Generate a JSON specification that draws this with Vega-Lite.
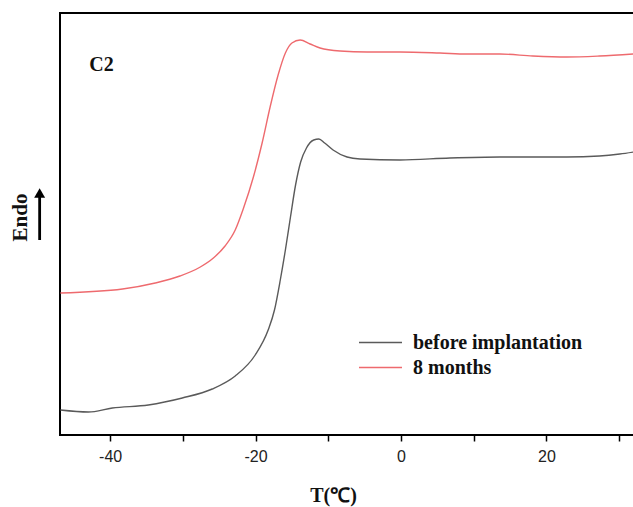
{
  "$schema": "https://vega.github.io/schema/vega-lite/v6.json",
  "autosize": "none",
  "width": 574,
  "height": 422,
  "padding": {"left": 60, "top": 13, "right": 0, "bottom": 72},
  "background": "white",
  "config": {
    "view": {"stroke": "black", "strokeWidth": 2},
    "axis": {"grid": false}
  },
  "datasets": {
    "curves": [
      {"T": -46.84, "v": 25, "s": "before implantation"},
      {"T": -43.0, "v": 23, "s": "before implantation"},
      {"T": -39.7, "v": 27, "s": "before implantation"},
      {"T": -34.75, "v": 30, "s": "before implantation"},
      {"T": -30.08, "v": 37, "s": "before implantation"},
      {"T": -25.96, "v": 46, "s": "before implantation"},
      {"T": -22.8, "v": 59, "s": "before implantation"},
      {"T": -20.05, "v": 80, "s": "before implantation"},
      {"T": -18.27, "v": 105, "s": "before implantation"},
      {"T": -17.4, "v": 125, "s": "before implantation"},
      {"T": -16.6, "v": 155, "s": "before implantation"},
      {"T": -15.9, "v": 185, "s": "before implantation"},
      {"T": -15.2, "v": 218, "s": "before implantation"},
      {"T": -14.5, "v": 250, "s": "before implantation"},
      {"T": -13.8, "v": 273, "s": "before implantation"},
      {"T": -13.0, "v": 287, "s": "before implantation"},
      {"T": -12.0, "v": 295, "s": "before implantation"},
      {"T": -11.3, "v": 296, "s": "before implantation"},
      {"T": -10.5, "v": 292, "s": "before implantation"},
      {"T": -9.34, "v": 285, "s": "before implantation"},
      {"T": -7.42, "v": 278, "s": "before implantation"},
      {"T": -5.63, "v": 276, "s": "before implantation"},
      {"T": -0.14, "v": 275, "s": "before implantation"},
      {"T": 6.73, "v": 277, "s": "before implantation"},
      {"T": 13.6, "v": 278, "s": "before implantation"},
      {"T": 22.8, "v": 278, "s": "before implantation"},
      {"T": 27.3, "v": 279, "s": "before implantation"},
      {"T": 30.1, "v": 281, "s": "before implantation"},
      {"T": 32.0, "v": 283, "s": "before implantation"},
      {"T": -46.84, "v": 142, "s": "8 months"},
      {"T": -38.3, "v": 146, "s": "8 months"},
      {"T": -33.8, "v": 152, "s": "8 months"},
      {"T": -30.4, "v": 159, "s": "8 months"},
      {"T": -27.6, "v": 168, "s": "8 months"},
      {"T": -25.8, "v": 177, "s": "8 months"},
      {"T": -24.2, "v": 189, "s": "8 months"},
      {"T": -22.8, "v": 205, "s": "8 months"},
      {"T": -21.7, "v": 226, "s": "8 months"},
      {"T": -20.3, "v": 258, "s": "8 months"},
      {"T": -19.1, "v": 292, "s": "8 months"},
      {"T": -18.0, "v": 328, "s": "8 months"},
      {"T": -16.9, "v": 360, "s": "8 months"},
      {"T": -15.9, "v": 382, "s": "8 months"},
      {"T": -15.0, "v": 392, "s": "8 months"},
      {"T": -13.87, "v": 395, "s": "8 months"},
      {"T": -12.5, "v": 391, "s": "8 months"},
      {"T": -11.13, "v": 387, "s": "8 months"},
      {"T": -8.38, "v": 384, "s": "8 months"},
      {"T": -4.67, "v": 383, "s": "8 months"},
      {"T": -0.14, "v": 383, "s": "8 months"},
      {"T": 5.36, "v": 382, "s": "8 months"},
      {"T": 9.07, "v": 381, "s": "8 months"},
      {"T": 13.6, "v": 381, "s": "8 months"},
      {"T": 18.13, "v": 379, "s": "8 months"},
      {"T": 22.8, "v": 378, "s": "8 months"},
      {"T": 27.3, "v": 379, "s": "8 months"},
      {"T": 32.0, "v": 381, "s": "8 months"}
    ]
  },
  "layer": [
    {
      "data": {"name": "curves"},
      "mark": {"type": "line", "strokeWidth": 1.4, "interpolate": "monotone"},
      "encoding": {
        "x": {
          "field": "T", "type": "quantitative",
          "scale": {"domain": [-46.9, 32.05], "nice": false, "zero": false},
          "axis": {
            "values": [-40, -30, -20, -10, 0, 10, 20, 30],
            "labelExpr": "datum.value % 20 === 0 ? ('' + datum.value) : ''",
            "domain": false,
            "tickColor": "black", "tickWidth": 1.5, "tickSize": 6,
            "labelFont": "Liberation Sans", "labelFontSize": 16, "labelColor": "#222",
            "labelPadding": 7,
            "title": "T(℃)",
            "titleFont": "Liberation Serif", "titleFontSize": 20, "titleFontWeight": "bold",
            "titleColor": "#111",
            "titleX": 273, "titleY": 60, "titleAnchor": null, "titleAlign": "center", "titleBaseline": "middle"
          }
        },
        "y": {
          "field": "v", "type": "quantitative",
          "scale": {"domain": [0, 422], "nice": false, "zero": false},
          "axis": {
            "labels": false, "ticks": false, "domain": false,
            "title": "Endo",
            "titleFont": "Liberation Serif", "titleFontSize": 21, "titleFontWeight": "bold",
            "titleColor": "#111",
            "titleX": -40, "titleY": 204, "titleAngle": -90, "titleAnchor": null, "titleAlign": "center", "titleBaseline": "middle"
          }
        },
        "color": {
          "field": "s", "type": "nominal",
          "scale": {"domain": ["before implantation", "8 months"], "range": ["#5a5a5a", "#ee6a6e"]},
          "legend": {
            "title": null, "orient": "none", "legendX": 309, "legendY": 318,
            "symbolType": "M-2,0L2,0", "symbolSize": 462, "symbolStrokeWidth": 1.5,
            "symbolFillColor": "transparent",
            "labelFont": "Liberation Serif", "labelFontSize": 20, "labelFontWeight": "bold",
            "labelColor": "#111", "labelOffset": 21, "rowPadding": 3, "padding": 0, "labelLimit": 400
          }
        }
      }
    },
    {
      "data": {"values": [{"label": "C2"}]},
      "mark": {"type": "text", "font": "Liberation Serif", "fontSize": 20, "fontWeight": "bold", "color": "#111", "align": "center", "baseline": "middle"},
      "encoding": {
        "x": {"datum": -41.2},
        "y": {"datum": 370},
        "text": {"field": "label"}
      }
    },
    {
      "data": {"values": [{"label": "arrow"}]},
      "mark": {"type": "rule", "strokeWidth": 2.8, "color": "black", "clip": false},
      "encoding": {
        "x": {"datum": -49.7},
        "y": {"datum": 195},
        "y2": {"datum": 238}
      }
    },
    {
      "data": {"values": [{"label": "arrowhead"}]},
      "mark": {"type": "point", "shape": "triangle-up", "filled": true, "size": 120, "color": "black", "opacity": 1, "clip": false},
      "encoding": {
        "x": {"datum": -49.7},
        "y": {"datum": 242}
      }
    }
  ]
}
